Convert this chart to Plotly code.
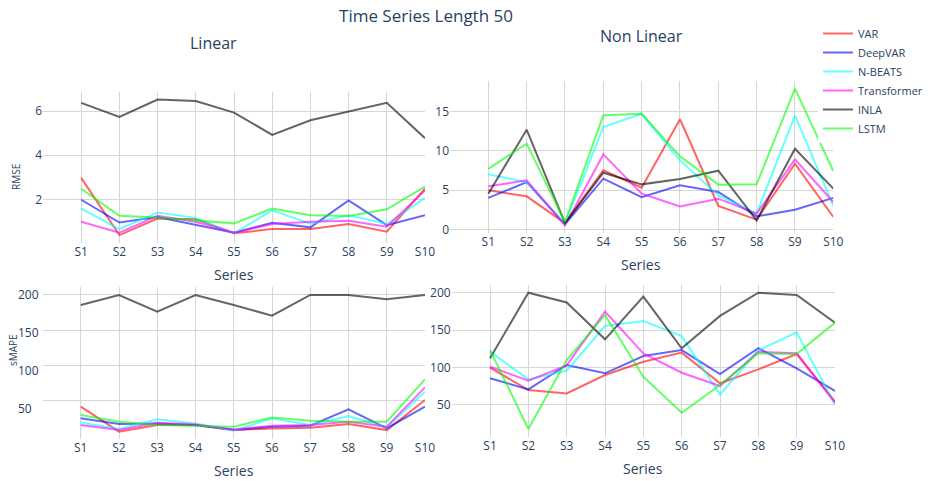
import plotly.graph_objects as go

W, H = 928, 481

series = ["S1", "S2", "S3", "S4", "S5", "S6", "S7", "S8", "S9", "S10"]
models = ["VAR", "DeepVAR", "N-BEATS", "Transformer", "INLA", "LSTM"]
colors = ["red", "blue", "cyan", "magenta", "black", "lime"]

# RMSE, linear series
rmse_linear = {
    "VAR":         [2.97, 0.38, 1.13, 1.10, 0.46, 0.65, 0.65, 0.88, 0.53, 2.48],
    "DeepVAR":     [1.98, 0.95, 1.20, 0.83, 0.49, 0.94, 0.73, 1.95, 0.83, 1.28],
    "N-BEATS":     [1.58, 0.65, 1.40, 1.16, 0.46, 1.50, 0.90, 1.28, 0.88, 2.07],
    "Transformer": [0.98, 0.49, 1.25, 0.98, 0.49, 0.88, 0.98, 1.03, 0.76, 2.40],
    "INLA":        [6.37, 5.73, 6.52, 6.45, 5.93, 4.92, 5.58, 5.96, 6.37, 4.77],
    "LSTM":        [2.48, 1.25, 1.18, 1.06, 0.91, 1.58, 1.28, 1.24, 1.55, 2.58],
}

# RMSE, non linear series
rmse_nonlinear = {
    "VAR":         [4.96, 4.20, 0.80, 7.50, 5.30, 14.0, 2.97, 1.23, 8.35, 1.57],
    "DeepVAR":     [4.00, 6.00, 0.64, 6.44, 4.10, 5.60, 4.75, 1.65, 2.50, 4.00],
    "N-BEATS":     [7.00, 6.00, 0.72, 13.0, 14.7, 8.77, 4.30, 2.00, 14.5, 2.97],
    "Transformer": [5.47, 6.23, 0.50, 9.53, 4.53, 2.92, 3.90, 2.00, 8.90, 3.47],
    "INLA":        [4.53, 12.67, 0.80, 7.20, 5.72, 6.40, 7.46, 1.14, 10.25, 5.17],
    "LSTM":        [7.70, 10.90, 0.93, 14.5, 14.7, 9.28, 5.68, 5.72, 17.9, 7.42],
}

# sMAPE, linear series
smape_linear = {
    "VAR":         [41.5, 6.0, 15.4, 15.4, 8.3, 10.7, 11.6, 16.8, 8.3, 51.0],
    "DeepVAR":     [25.0, 16.8, 17.8, 15.4, 8.3, 13.0, 14.5, 37.7, 10.7, 41.5],
    "N-BEATS":     [19.2, 9.7, 23.5, 17.8, 7.4, 25.0, 15.4, 28.2, 12.1, 62.7],
    "Transformer": [15.4, 8.3, 18.7, 16.4, 9.3, 14.5, 15.4, 20.1, 13.0, 68.9],
    "INLA":        [185.8, 200.0, 176.3, 200.0, 185.8, 170.7, 200.0, 200.0, 193.8, 200.0],
    "LSTM":        [29.6, 20.1, 15.4, 14.5, 13.0, 26.3, 21.6, 20.1, 20.1, 80.3],
}

# sMAPE, non linear series
smape_nonlinear = {
    "VAR":         [100.0, 70.0, 65.5, 90.0, 107.8, 119.9, 79.0, 97.6, 118.0, 54.4],
    "DeepVAR":     [85.6, 70.9, 103.4, 92.3, 115.4, 123.4, 91.4, 126.0, 99.0, 68.7],
    "N-BEATS":     [121.2, 84.2, 95.8, 155.5, 162.0, 142.0, 64.0, 123.0, 147.0, 50.0],
    "Transformer": [101.0, 82.5, 103.0, 174.6, 119.0, 93.1, 75.3, 121.0, 119.0, 53.0],
    "INLA":        [112.3, 200.0, 187.0, 137.7, 194.7, 125.6, 169.0, 200.0, 197.0, 160.0],
    "LSTM":        [123.4, 17.9, 110.0, 170.0, 87.8, 39.7, 76.7, 119.0, 118.0, 160.0],
}

# sMAPE tick marks; the linear panel prints its labels on a [10, 210] scale
smape_ticks = [50, 100, 150, 200]
smape_label_range = [10, 210]


def xdom(left, right):
    return [left / W, right / W]


def ydom(top, bottom):
    return [1 - bottom / H, 1 - top / H]


def padded_range(data):
    # same 5 % padding plotly applies to line-only traces
    vals = [v for row in data.values() for v in row]
    lo, hi = min(vals), max(vals)
    span = (hi - lo) / 0.9
    return [lo - 0.05 * span, hi + 0.05 * span]


fig = go.Figure()

panels = [
    (rmse_linear, "x", "y", True),
    (rmse_nonlinear, "x2", "y2", False),
    (smape_linear, "x3", "y3", False),
    (smape_nonlinear, "x4", "y4", False),
]
for data, xa, ya, show in panels:
    for name, color in zip(models, colors):
        fig.add_trace(go.Scatter(
            x=series, y=data[name], mode="lines", name=name,
            line=dict(color=color, width=2), opacity=0.6,
            xaxis=xa, yaxis=ya, showlegend=show,
        ))

grid = "#d6d6d6"
xcommon = dict(type="category", categoryorder="array", categoryarray=series,
               range=[-1, 9], showgrid=True, gridcolor=grid, zeroline=False,
               automargin=False, tickfont=dict(size=12))
ycommon = dict(zeroline=False, automargin=False, tickfont=dict(size=12))

# linear sMAPE axis: grid at the tick values, labels on the printed scale
y3_range = padded_range(smape_linear)
lab_lo, lab_hi = smape_label_range
y3_labelpos = [y3_range[0] + (v - lab_lo) / (lab_hi - lab_lo) * (y3_range[1] - y3_range[0])
               for v in smape_ticks]

fig.update_layout(
    template="plotly_white",
    width=W, height=H,
    margin=dict(l=0, r=0, t=0, b=0),
    xaxis=dict(domain=xdom(43, 425), anchor="y", **xcommon),
    yaxis=dict(domain=ydom(92, 242.6), anchor="x", showgrid=True, gridcolor=grid, **ycommon),
    xaxis2=dict(domain=xdom(450, 833.3), anchor="y2", **xcommon),
    yaxis2=dict(domain=ydom(81, 233), anchor="x2", showgrid=True, gridcolor=grid, **ycommon),
    xaxis3=dict(domain=xdom(42.5, 425), anchor="y3", **xcommon),
    yaxis3=dict(domain=ydom(287.4, 439.3), anchor="free", position=17 / W, side="right",
                range=y3_range, tickmode="array", tickvals=y3_labelpos,
                ticktext=[str(v) for v in smape_ticks], showgrid=False,
                minor=dict(tickmode="array", tickvals=smape_ticks, showgrid=True,
                           gridcolor=grid, ticks=""),
                **ycommon),
    xaxis4=dict(domain=xdom(451.7, 835), anchor="y4", **xcommon),
    yaxis4=dict(domain=ydom(285.1, 436.6), anchor="x4", showgrid=True, gridcolor=grid, **ycommon),
    title=dict(text="Time Series Length 50", x=426 / W, xanchor="center",
               y=1 - 16 / H, yanchor="middle", font=dict(size=17)),
    legend=dict(x=1, y=1 - 19 / H, xanchor="right", yanchor="top",
                font=dict(size=11), bgcolor="white", tracegroupgap=0),
)

labels = [
    ("Linear", 213, 43, 16, 0),
    ("Non Linear", 641, 36, 16, 0),
    ("RMSE", 16, 177, 10, -90),
    ("sMAPE", 13, 350, 10, -90),
    ("Series", 234, 274, 14, 0),
    ("Series", 641, 264, 14, 0),
    ("Series", 234, 470, 14, 0),
    ("Series", 643, 468, 14, 0),
]
for text, px, py, size, angle in labels:
    fig.add_annotation(text=text, x=px / W, y=1 - py / H, xref="paper", yref="paper",
                       xanchor="center", yanchor="middle", showarrow=False,
                       textangle=angle, font=dict(size=size))

fig.write_html("out.html")
